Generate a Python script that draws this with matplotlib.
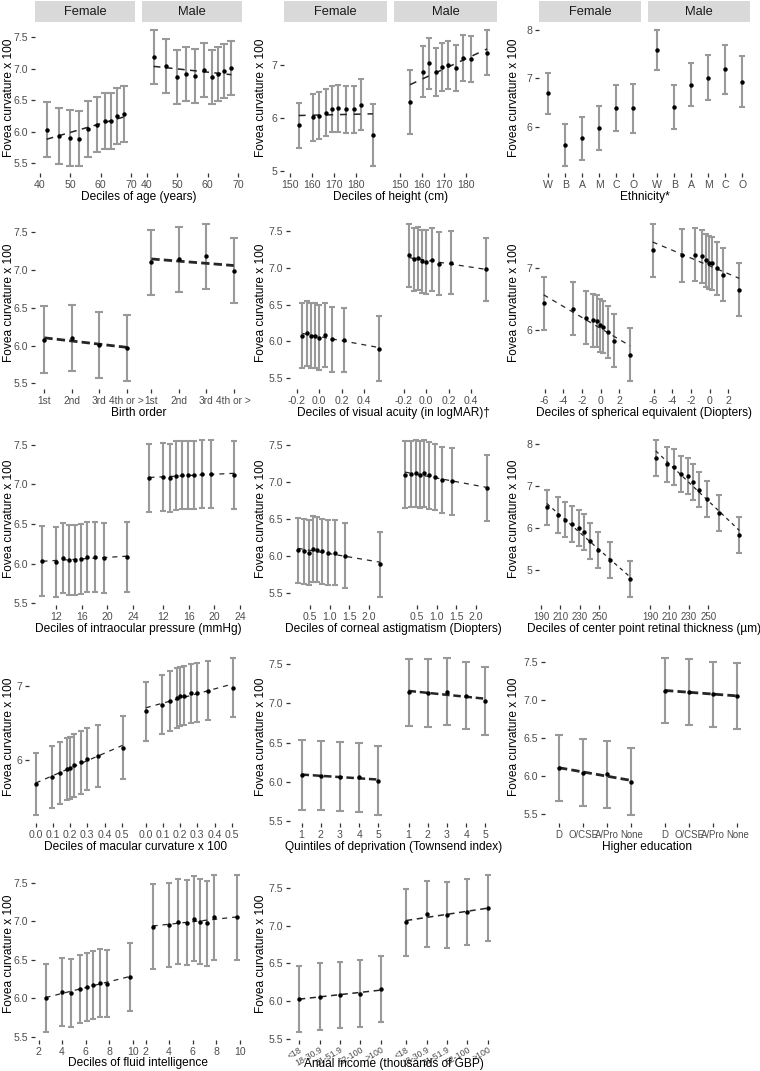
import numpy as np
import matplotlib
matplotlib.use("Agg")
import matplotlib.pyplot as plt

plt.rcParams['font.family'] = ['Liberation Sans', 'DejaVu Sans']

# ---------------- data ----------------
age_x = [42.2, 46.4, 50.0, 53.0, 55.9, 58.9, 61.4, 63.3, 65.3, 67.8]
age_f = [6.03, 5.93, 5.90, 5.89, 6.04, 6.11, 6.17, 6.17, 6.25, 6.28]
age_f_ci = [0.44, 0.44, 0.44, 0.44, 0.44, 0.44, 0.44, 0.44, 0.44, 0.44]
age_m = [7.19, 7.04, 6.87, 6.92, 6.88, 6.98, 6.87, 6.92, 6.97, 7.01]
age_m_ci = [0.43, 0.43, 0.43, 0.43, 0.43, 0.43, 0.43, 0.43, 0.43, 0.43]

hgt_f_x = [153.9, 160.2, 163.2, 166.2, 169.2, 171.7, 175.5, 179.0, 182.4, 187.6]
hgt_f = [5.86, 6.01, 6.04, 6.10, 6.17, 6.18, 6.16, 6.16, 6.25, 5.68]
hgt_f_ci = [0.43, 0.44, 0.44, 0.44, 0.44, 0.44, 0.44, 0.44, 0.48, 0.59]
hgt_m_x = [154.5, 160.2, 163.2, 166.2, 168.9, 171.7, 175.2, 178.6, 182.3, 189.5]
hgt_m = [6.30, 6.87, 7.03, 6.87, 6.96, 7.00, 6.94, 7.13, 7.11, 7.23]
hgt_m_ci = [0.61, 0.48, 0.48, 0.45, 0.45, 0.45, 0.44, 0.44, 0.44, 0.43]

eth_cats = ["W", "B", "A", "M", "C", "O"]
eth_f = [6.69, 5.62, 5.76, 5.97, 6.39, 6.38]
eth_f_ci = [0.43, 0.44, 0.45, 0.46, 0.47, 0.51]
eth_m = [7.59, 6.41, 6.87, 7.02, 7.19, 6.93]
eth_m_ci = [0.42, 0.45, 0.45, 0.47, 0.51, 0.53]

bo_cats = ["1st", "2nd", "3rd", "4th or >"]
bo_f = [6.08, 6.10, 6.01, 5.97]
bo_f_ci = [0.44, 0.44, 0.44, 0.44]
bo_m = [7.10, 7.14, 7.18, 6.99]
bo_m_ci = [0.43, 0.43, 0.43, 0.43]

va_x = [-0.15, -0.11, -0.07, -0.04, 0.0, 0.055, 0.115, 0.225, 0.535]
va_f = [6.08, 6.11, 6.08, 6.08, 6.05, 6.09, 6.03, 6.02, 5.90]
va_f_ci = [0.44, 0.44, 0.44, 0.44, 0.44, 0.44, 0.44, 0.44, 0.44]
va_m = [7.17, 7.12, 7.13, 7.09, 7.08, 7.11, 7.06, 7.07, 6.98]
va_m_ci = [0.43, 0.43, 0.43, 0.43, 0.43, 0.43, 0.43, 0.43, 0.43]

se_x = [-6.1, -3.0, -1.6, -0.8, -0.37, -0.03, 0.28, 0.77, 1.4, 3.15]
se_f = [6.43, 6.34, 6.19, 6.15, 6.14, 6.07, 6.04, 5.96, 5.82, 5.59]
se_f_ci = [0.43, 0.43, 0.43, 0.43, 0.43, 0.43, 0.43, 0.43, 0.43, 0.43]
se_m = [7.29, 7.21, 7.22, 7.19, 7.13, 7.09, 7.08, 7.00, 6.89, 6.65]
se_m_ci = [0.43, 0.43, 0.43, 0.43, 0.43, 0.43, 0.43, 0.43, 0.43, 0.43]

iop_x = [9.9, 12.0, 13.1, 14.0, 15.0, 15.9, 16.9, 18.0, 19.5, 23.1]
iop_f = [6.03, 6.02, 6.07, 6.05, 6.05, 6.06, 6.08, 6.08, 6.07, 6.09]
iop_f_ci = [0.44, 0.44, 0.44, 0.44, 0.44, 0.44, 0.44, 0.44, 0.44, 0.44]
iop_m = [7.08, 7.09, 7.08, 7.11, 7.12, 7.12, 7.12, 7.13, 7.13, 7.12]
iop_m_ci = [0.43, 0.43, 0.43, 0.43, 0.43, 0.43, 0.43, 0.43, 0.43, 0.43]

ca_x = [0.2, 0.36, 0.47, 0.58, 0.69, 0.81, 0.96, 1.14, 1.40, 2.28]
ca_f = [6.08, 6.07, 6.05, 6.10, 6.09, 6.07, 6.05, 6.05, 6.01, 5.89]
ca_f_ci = [0.44, 0.44, 0.44, 0.44, 0.44, 0.44, 0.44, 0.44, 0.44, 0.44]
ca_m = [7.10, 7.11, 7.12, 7.10, 7.12, 7.09, 7.07, 7.03, 7.01, 6.92]
ca_m_ci = [0.45, 0.45, 0.45, 0.45, 0.45, 0.45, 0.45, 0.45, 0.45, 0.45]

rt_x = [196, 208, 215, 222, 229, 234, 241, 249, 261, 282]
rt_f = [6.49, 6.30, 6.20, 6.09, 6.00, 5.90, 5.68, 5.46, 5.22, 4.77]
rt_f_ci = [0.43, 0.43, 0.43, 0.43, 0.43, 0.43, 0.43, 0.43, 0.43, 0.43]
rt_m = [7.68, 7.52, 7.46, 7.30, 7.25, 7.10, 6.92, 6.69, 6.36, 5.82]
rt_m_ci = [0.43, 0.43, 0.43, 0.43, 0.43, 0.43, 0.43, 0.43, 0.43, 0.43]

mc_x = [0.0, 0.095, 0.14, 0.18, 0.2, 0.225, 0.26, 0.3, 0.36, 0.505]
mc_f = [5.68, 5.77, 5.83, 5.88, 5.90, 5.93, 5.97, 6.02, 6.06, 6.17]
mc_f_ci = [0.42, 0.42, 0.42, 0.42, 0.42, 0.42, 0.42, 0.42, 0.42, 0.42]
mc_m = [6.66, 6.75, 6.80, 6.84, 6.86, 6.87, 6.90, 6.91, 6.94, 6.98]
mc_m_ci = [0.40, 0.40, 0.40, 0.40, 0.40, 0.40, 0.40, 0.40, 0.40, 0.40]

dep_x = [1, 2, 3, 4, 5]
dep_f = [6.09, 6.08, 6.07, 6.06, 6.02]
dep_f_ci = [0.44, 0.44, 0.44, 0.44, 0.44]
dep_m = [7.14, 7.13, 7.15, 7.10, 7.03]
dep_m_ci = [0.43, 0.43, 0.43, 0.43, 0.43]

edu_cats = ["D", "O/CSE", "A/Pro", "None"]
edu_f = [6.11, 6.05, 6.03, 5.93]
edu_f_ci = [0.44, 0.44, 0.44, 0.44]
edu_m = [7.13, 7.11, 7.08, 7.06]
edu_m_ci = [0.43, 0.43, 0.43, 0.43]

fi_x = [2.6, 4.0, 4.8, 5.5, 6.1, 6.6, 7.2, 7.8, 9.8]
fi_f = [6.00, 6.08, 6.07, 6.12, 6.15, 6.17, 6.20, 6.19, 6.28]
fi_f_ci = [0.44, 0.44, 0.44, 0.44, 0.44, 0.44, 0.44, 0.44, 0.44]
fi_m = [6.93, 6.95, 6.99, 6.98, 7.03, 6.99, 6.97, 7.05, 7.05]
fi_m_ci = [0.55, 0.55, 0.55, 0.55, 0.55, 0.55, 0.55, 0.55, 0.55]

inc_cats = ["<18", "18-30.9", "31-51.9", "52-100", ">100"]
inc_f = [6.03, 6.06, 6.08, 6.10, 6.16]
inc_f_ci = [0.44, 0.44, 0.44, 0.44, 0.44]
inc_m = [7.04, 7.15, 7.14, 7.18, 7.23]
inc_m_ci = [0.44, 0.44, 0.44, 0.44, 0.44]

y_half = [5.5, 6.0, 6.5, 7.0, 7.5]
y_half_lab = ["5.5", "6.0", "6.5", "7.0", "7.5"]

# ---------------- layout ----------------
W, H = 760, 1071
fig = plt.figure(figsize=(W / 100, H / 100), dpi=100)
fig.patch.set_facecolor('white')


def rect(l, t, r, b):
    return [l / W, 1 - b / H, (r - l) / W, (b - t) / H]


ROW_TOP = [23, 216, 432, 650, 867]
ROW_BOT = [173, 389, 605, 823, 1040]
XLAB_Y = [197, 413, 629, 847, 1063]
COL_R = [242, 497, 750]
COL_L_WIDE = [35, 290, 545]
COL_L_NARROW = [29, 284, 539]
YTITLE_X = [9, 261, 514]

ERR_COLOR = '#999999'
TICK_COLOR = '#333333'
LABEL_COLOR = '#4D4D4D'
TITLE_FS = 8.6
TICK_FS = 7.6


def panel(row, col, xf, yf, cf, xm, ym, cm, xlim, xticks, xticklabels,
          yticks, yticklabels, xlabel, narrow=False, fit=True,
          line=(1.0, (4, 4)), capsize=2.5, strips=False, rot=0, xfs=TICK_FS,
          xpad=2.2, xlab_y=None):
    L = (COL_L_NARROW if narrow else COL_L_WIDE)[col]
    R = COL_R[col]
    w = (R - L - 7) / 2
    top, bot = ROW_TOP[row], ROW_BOT[row]
    lo = min(np.min(np.subtract(yf, cf)), np.min(np.subtract(ym, cm)))
    hi = max(np.max(np.add(yf, cf)), np.max(np.add(ym, cm)))
    pad = 0.05 * (hi - lo)
    for i, (x, y, c, name) in enumerate([(xf, yf, cf, 'Female'),
                                          (xm, ym, cm, 'Male')]):
        l = L + i * (w + 7)
        ax = fig.add_axes(rect(l, top, l + w, bot))
        x = np.asarray(x, dtype=float)
        y = np.asarray(y, dtype=float)
        ax.errorbar(x, y, yerr=c, fmt='none', ecolor=ERR_COLOR,
                    elinewidth=1.5, capsize=capsize, capthick=1.5, zorder=1)
        if fit:
            k, b0 = np.polyfit(x, y, 1)
            xs = np.array([x.min(), x.max()])
            ax.plot(xs, k * xs + b0, color='#262626', lw=line[0],
                    dashes=line[1], zorder=2, dash_capstyle='butt')
        ax.plot(x, y, 'o', color='black', ms=3.2, mew=0, zorder=3)
        ax.set_xlim(*xlim)
        ax.set_ylim(lo - pad, hi + pad)
        for s in ax.spines.values():
            s.set_visible(False)
        ax.set_xticks(xticks)
        if rot:
            ax.set_xticklabels(xticklabels, rotation=rot, ha='right',
                               rotation_mode='anchor', fontsize=xfs)
        else:
            ax.set_xticklabels(xticklabels, fontsize=xfs)
        ax.set_yticks(yticks)
        ax.set_yticklabels(yticklabels)
        ax.tick_params(axis='both', length=2.75, width=0.9, color=TICK_COLOR,
                       labelcolor=LABEL_COLOR, labelsize=TICK_FS, pad=2.2)
        ax.tick_params(axis='x', labelsize=xfs, pad=xpad)
        if i == 1:
            ax.tick_params(axis='y', left=False, labelleft=False)
        if strips:
            sax = fig.add_axes(rect(l, 0.5, l + w, 22))
            sax.set_facecolor('#D9D9D9')
            sax.set_xticks([])
            sax.set_yticks([])
            for s in sax.spines.values():
                s.set_visible(False)
            sax.text(0.5, 0.48, name, ha='center', va='center',
                     fontsize=9.3, color='#1A1A1A', transform=sax.transAxes)
    ly = XLAB_Y[row] if xlab_y is None else xlab_y
    fig.text((L + R) / 2 / W, 1 - ly / H, xlabel, ha='center',
             va='center', fontsize=TITLE_FS, color='black')
    fig.text(YTITLE_X[col] / W, 1 - (top + bot) / 2 / H,
             'Fovea curvature x 100', ha='center', va='center',
             rotation=90, fontsize=TITLE_FS, color='black')


# Row 1
panel(0, 0, age_x, age_f, age_f_ci, age_x, age_m, age_m_ci,
      (38.4, 71.3), [40, 50, 60, 70], ["40", "50", "60", "70"],
      y_half, y_half_lab, "Deciles of age (years)",
      line=(1.1, (4.5, 3.5)), capsize=3, strips=True)
panel(0, 1, hgt_f_x, hgt_f, hgt_f_ci, hgt_m_x, hgt_m, hgt_m_ci,
      (147.2, 194.0), [150, 160, 170, 180], ["150", "160", "170", "180"],
      [5, 6, 7], ["5", "6", "7"], "Deciles of height (cm)",
      narrow=True, line=(1.1, (4.5, 4.5)), strips=True)
eth_pos = np.arange(1, len(eth_cats) + 1)
panel(0, 2, eth_pos, eth_f, eth_f_ci, eth_pos, eth_m, eth_m_ci,
      (0.45, 6.45), eth_pos, eth_cats,
      [6, 7, 8], ["6", "7", "8"], "Ethnicity*",
      narrow=True, fit=False, strips=True)

# Row 2
bo_pos = np.arange(1, len(bo_cats) + 1)
panel(1, 0, bo_pos, bo_f, bo_f_ci, bo_pos, bo_m, bo_m_ci,
      (0.66, 4.3), bo_pos, bo_cats,
      y_half, y_half_lab, "Birth order",
      line=(2.0, (3, 1.5)), capsize=3, xfs=7.3)
panel(1, 1, va_x, va_f, va_f_ci, va_x, va_m, va_m_ci,
      (-0.26, 0.63), [-0.2, 0.0, 0.2, 0.4], ["-0.2", "0.0", "0.2", "0.4"],
      y_half, y_half_lab, "Deciles of visual acuity (in logMAR)\u2020",
      line=(0.9, (4, 4)), capsize=2)
panel(1, 2, se_x, se_f, se_f_ci, se_x, se_m, se_m_ci,
      (-6.6, 4.3), [-6, -4, -2, 0, 2], ["-6", "-4", "-2", "0", "2"],
      [6, 7], ["6", "7"], "Deciles of spherical equivalent (Diopters)",
      narrow=True, line=(0.9, (4, 4)), capsize=2)

# Row 3
panel(2, 0, iop_x, iop_f, iop_f_ci, iop_x, iop_m, iop_m_ci,
      (8.74, 24.3), [12, 16, 20, 24], ["12", "16", "20", "24"],
      y_half, y_half_lab, "Deciles of intraocular pressure (mmHg)",
      line=(0.9, (4, 4)), capsize=2)
panel(2, 1, ca_x, ca_f, ca_f_ci, ca_x, ca_m, ca_m_ci,
      (0.0, 2.53), [0.5, 1.0, 1.5, 2.0], ["0.5", "1.0", "1.5", "2.0"],
      y_half, y_half_lab, "Deciles of corneal astigmatism (Diopters)",
      line=(0.9, (4, 4)), capsize=2)
panel(2, 2, rt_x, rt_f, rt_f_ci, rt_x, rt_m, rt_m_ci,
      (188, 293), [190, 210, 230, 250], ["190", "210", "230", "250"],
      [5, 6, 7, 8], ["5", "6", "7", "8"],
      "Deciles of center point retinal thickness (\u00b5m)",
      narrow=True, line=(0.9, (3, 3)), capsize=2.5, xfs=7.0)

# Row 4
panel(3, 0, mc_x, mc_f, mc_f_ci, mc_x, mc_m, mc_m_ci,
      (-0.04, 0.56), [0.0, 0.1, 0.2, 0.3, 0.4, 0.5],
      ["0.0", "0.1", "0.2", "0.3", "0.4", "0.5"],
      [6, 7], ["6", "7"], "Deciles of macular curvature x 100",
      narrow=True, line=(0.9, (4, 4)), capsize=2)
panel(3, 1, dep_x, dep_f, dep_f_ci, dep_x, dep_m, dep_m_ci,
      (0.4, 5.6), dep_x, ["1", "2", "3", "4", "5"],
      y_half, y_half_lab, "Quintiles of deprivation (Townsend index)",
      line=(1.8, (3, 1.5)), capsize=3)
edu_pos = np.arange(1, len(edu_cats) + 1)
panel(3, 2, edu_pos, edu_f, edu_f_ci, edu_pos, edu_m, edu_m_ci,
      (0.42, 4.52), edu_pos, edu_cats,
      y_half, y_half_lab, "Higher education",
      line=(2.0, (3, 1.5)), capsize=3, xfs=6.9)

# Row 5
panel(4, 0, fi_x, fi_f, fi_f_ci, fi_x, fi_m, fi_m_ci,
      (1.7, 10.2), [2, 4, 6, 8, 10], ["2", "4", "6", "8", "10"],
      y_half, y_half_lab, "Deciles of fluid intelligence",
      line=(0.9, (4, 4)), capsize=2)
inc_pos = np.arange(1, len(inc_cats) + 1)
panel(4, 1, inc_pos, inc_f, inc_f_ci, inc_pos, inc_m, inc_m_ci,
      (0.55, 5.45), inc_pos, inc_cats,
      y_half, y_half_lab, "Anual income (thousands of GBP)",
      line=(1.1, (4, 3)), capsize=2.5, rot=30, xfs=6.3, xpad=1.0,
      xlab_y=1064)

fig.savefig('out.png', dpi=100, facecolor='white')
